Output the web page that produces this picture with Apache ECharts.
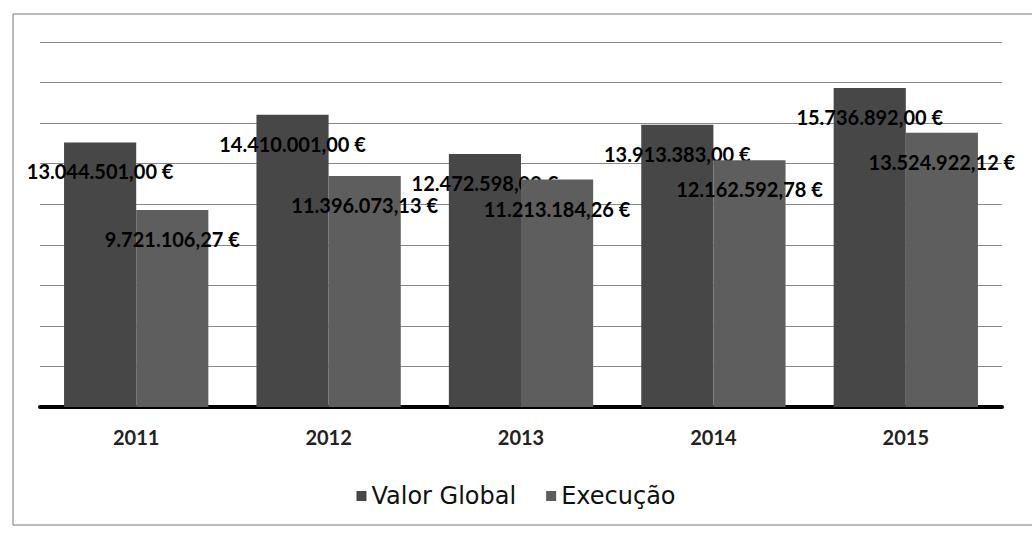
<!DOCTYPE html>
<html>
<head>
<meta charset="utf-8">
<script src="https://cdn.jsdelivr.net/npm/echarts@6/dist/echarts.min.js"></script>
<style>
  html, body { margin: 0; padding: 0; background: #fff; }
  #chart { width: 1032px; height: 537px; }
</style>
</head>
<body>
<div id="chart"></div>
<script>
var years = ['2011', '2012', '2013', '2014', '2015'];
var valorGlobal = [13044501.00, 14410001.00, 12472598.00, 13913383.00, 15736892.00];
var execucao = [9721106.27, 11396073.13, 11213184.26, 12162592.78, 13524922.12];
var seriesNames = ['Valor Global', 'Execução'];

function euro(v) {
  var parts = v.toFixed(2).split('.');
  var int = parts[0].replace(/\B(?=(\d{3})+(?!\d))/g, '.');
  return int + ',' + parts[1] + ' €';
}

var chart = echarts.init(document.getElementById('chart'), null, { renderer: 'svg' });

var labelStyle = {
  show: true,
  position: 'insideTop',
  distance: 19,
  color: '#000',
  fontFamily: 'Lato',
  fontWeight: 'bold',
  fontSize: 20,
  formatter: function(p) { return euro(p.value); }
};

chart.setOption({
  animation: false,
  backgroundColor: '#fff',
  graphic: [{
    type: 'rect',
    shape: { x: 13, y: 14, width: 1040, height: 511 },
    style: { fill: 'none', stroke: '#777', lineWidth: 1 },
    z: -1
  }],
  grid: { left: 40, right: 30, top: 42, bottom: 130 },
  legend: {
    bottom: 24,
    left: 'center',
    itemWidth: 10,
    itemHeight: 10,
    itemGap: 30,
    icon: 'rect',
    textStyle: { fontFamily: 'DejaVu Sans', fontSize: 24, color: '#111' },
    data: seriesNames
  },
  xAxis: {
    type: 'category',
    data: years,
    axisLine: { lineStyle: { color: '#000', width: 4 } },
    axisTick: { show: false },
    axisLabel: { color: '#222', fontFamily: 'Lato', fontWeight: 'bold', fontSize: 20, margin: 20 }
  },
  yAxis: {
    type: 'value',
    min: 0,
    max: 18000000,
    interval: 2000000,
    axisLabel: { show: false },
    axisLine: { show: false },
    axisTick: { show: false },
    splitLine: { lineStyle: { color: '#888', width: 1 } }
  },
  series: [{
    name: seriesNames[0],
    type: 'bar',
    data: valorGlobal,
    barGap: '0%',
    barCategoryGap: '25%',
    itemStyle: { color: '#474747' },
    label: labelStyle,
    z: 2
  }, {
    name: seriesNames[1],
    type: 'bar',
    data: execucao,
    itemStyle: { color: '#5e5e5e' },
    label: labelStyle,
    z: 3
  }]
});
window.addEventListener('resize', function() { chart.resize(); });
</script>
</body>
</html>
